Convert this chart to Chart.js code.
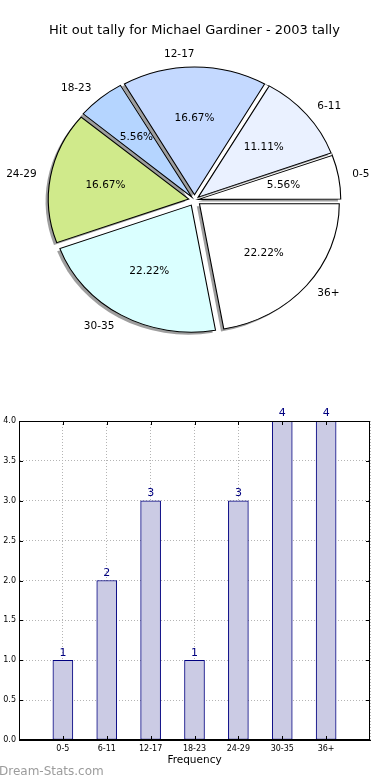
<!DOCTYPE html>
<html><head><meta charset="utf-8">
<script src="https://cdn.jsdelivr.net/npm/chart.js@4/dist/chart.umd.min.js"></script>
<style>
html,body{margin:0;padding:0;background:#fff;width:390px;height:780px;overflow:hidden;}
#pieWrap{position:absolute;left:0;top:0;width:390px;height:380px;}
#barWrap{position:absolute;left:0;top:380px;width:390px;height:400px;}
#wm{position:absolute;left:-1px;top:763px;font:12px 'DejaVu Sans';color:#9c9c9c;white-space:nowrap;line-height:16px;}
</style></head><body>
<div id="pieWrap"><canvas id="pie"></canvas></div>
<div id="barWrap"><canvas id="bar"></canvas></div>
<div id="wm"></div>
<script>
// ---- data ----
const chartTitle = 'Hit out tally for Michael Gardiner - 2003 tally';
const categories = ['0-5', '6-11', '12-17', '18-23', '24-29', '30-35', '36+'];
const tally = [1, 2, 3, 1, 3, 4, 4];
const sliceColors = ['#ffffff', '#eaf1ff', '#c4d9ff', '#b5d5ff', '#d0ea8b', '#daffff', '#ffffff'];
const xAxisTitle = 'Frequency';
const watermark = 'Dream-Stats.com';

document.getElementById('wm').textContent = watermark;
const FONT = "'DejaVu Sans', 'Liberation Sans', sans-serif";

// ---- pie ----
const SX = 1.1;        // horizontal stretch of the pie (non-equal aspect)
const EXPLODE = 6;     // explode distance
const R = 127;         // pie radius
const SHADOW = 2.5;    // shadow offset
const total = tally.reduce((a, b) => a + b, 0);
// matplotlib draws counter-clockwise from east; Chart.js clockwise -> reverse order
const pieLabels = categories.slice().reverse();
const pieValues = tally.slice().reverse();
const pieColors = sliceColors.slice().reverse();

const pieStretch = {
  id: 'pieStretch',
  beforeDatasetsDraw(chart) {
    const ctx = chart.ctx;
    const arcs = chart.getDatasetMeta(0).data;
    const cx = arcs[0].x, cy = arcs[0].y;
    ctx.save();
    ctx.translate(cx, cy); ctx.scale(SX, 1); ctx.translate(-cx, -cy);
    ctx.fillStyle = 'rgba(40,40,40,0.45)';
    arcs.forEach(a => {
      const m = (a.startAngle + a.endAngle) / 2;
      const ox = cx + EXPLODE * Math.cos(m) - SHADOW;
      const oy = cy + EXPLODE * Math.sin(m) + SHADOW;
      ctx.beginPath();
      ctx.moveTo(ox, oy);
      ctx.arc(ox, oy, a.outerRadius, a.startAngle, a.endAngle);
      ctx.closePath();
      ctx.fill();
    });
  },
  afterDatasetsDraw(chart) {
    const ctx = chart.ctx;
    ctx.restore();
    const arcs = chart.getDatasetMeta(0).data;
    const cx = arcs[0].x, cy = arcs[0].y;
    ctx.save();
    ctx.font = '10.5px ' + FONT;
    ctx.fillStyle = '#000';
    ctx.textBaseline = 'middle';
    arcs.forEach((a, k) => {
      const m = (a.startAngle + a.endAngle) / 2;
      const c = Math.cos(m), s = Math.sin(m);
      const ex = cx + SX * EXPLODE * c, ey = cy + EXPLODE * s;
      ctx.textAlign = c > 1e-6 ? 'left' : 'right';
      ctx.fillText(pieLabels[k], ex + SX * 1.1 * a.outerRadius * c, ey + 1.1 * a.outerRadius * s);
      ctx.textAlign = 'center';
      const pct = (pieValues[k] / total * 100).toFixed(2) + '%';
      ctx.fillText(pct, ex + SX * 0.6 * a.outerRadius * c, ey + 0.6 * a.outerRadius * s);
    });
    ctx.restore();
  }
};

new Chart(document.getElementById('pie'), {
  type: 'pie',
  data: {
    labels: pieLabels,
    datasets: [{
      data: pieValues,
      backgroundColor: pieColors,
      borderColor: '#000',
      borderWidth: 1,
      borderJoinStyle: 'miter',
      clip: false,
      offset: (ctx) => {
        const d = ctx.dataset.data;
        const tot = d.reduce((a, b) => a + b, 0);
        const circ = d[ctx.dataIndex] / tot * 2 * Math.PI;
        const fix = 1 - Math.sin(Math.min(Math.PI, circ));
        return 4 * EXPLODE / (1 + fix);
      }
    }]
  },
  options: {
    animation: false, events: [], responsive: true, maintainAspectRatio: false,
    rotation: 90, radius: R,
    layout: { padding: { top: 0, left: 0, right: 1, bottom: 28.6 } },
    plugins: {
      legend: { display: false }, tooltip: { enabled: false },
      title: { display: true, text: chartTitle, color: '#000',
        font: { family: FONT, size: 13, weight: 'normal', lineHeight: 1.2 },
        padding: { top: 23, bottom: 10 } }
    }
  },
  plugins: [pieStretch]
});

// ---- bar ----
const barLabels = [''].concat(categories, ['']);
const barValues = [null].concat(tally, [null]);

const barDecor = {
  id: 'barDecor',
  afterDatasetsDraw(chart) {
    const ctx = chart.ctx;
    const meta = chart.getDatasetMeta(0);
    ctx.save();
    ctx.font = '11px ' + FONT;
    ctx.fillStyle = '#000080';
    ctx.textAlign = 'center';
    ctx.textBaseline = 'bottom';
    meta.data.forEach((el, i) => {
      const v = barValues[i];
      if (v == null) return;
      ctx.fillText(String(v), el.x, el.y - 2);
    });
    ctx.restore();
  },
  afterDraw(chart) {
    const { ctx, chartArea: a, scales: { x, y } } = chart;
    ctx.save();
    ctx.strokeStyle = '#000';
    ctx.lineWidth = 1;
    ctx.beginPath();
    y.ticks.forEach((t, i) => {
      const py = Math.round(y.getPixelForTick(i)) + 0.5;
      ctx.moveTo(a.left, py); ctx.lineTo(a.left + 4, py);
      ctx.moveTo(a.right, py); ctx.lineTo(a.right - 4, py);
    });
    categories.forEach((c, i) => {
      const px = Math.round(x.getPixelForValue(i + 1)) + 0.5;
      ctx.moveTo(px, a.bottom); ctx.lineTo(px, a.bottom - 4);
      ctx.moveTo(px, a.top); ctx.lineTo(px, a.top + 4);
    });
    ctx.stroke();
    ctx.strokeRect(Math.round(a.left) + 0.5, Math.round(a.top) + 0.5,
      Math.round(a.right) - Math.round(a.left) - 1, Math.round(a.bottom) - Math.round(a.top) - 1);
    ctx.restore();
  }
};

new Chart(document.getElementById('bar'), {
  type: 'bar',
  data: {
    labels: barLabels,
    datasets: [{
      data: barValues,
      backgroundColor: '#cbcbe4',
      borderColor: '#000080',
      borderWidth: 1,
      borderSkipped: false,
      barThickness: 20
    }]
  },
  options: {
    animation: false, events: [], responsive: true, maintainAspectRatio: false,
    layout: { padding: { top: 41, right: 20, left: 0, bottom: 0 } },
    plugins: { legend: { display: false }, tooltip: { enabled: false } },
    scales: {
      x: {
        offset: false, z: 1,
        grid: { offset: false, color: '#b4b4b4', lineWidth: 1, drawTicks: false },
        border: { display: true, color: '#000', dash: [1, 2] },
        ticks: { font: { family: FONT, size: 8 }, color: '#000', padding: 4, maxRotation: 0, autoSkip: false },
        title: { display: true, text: xAxisTitle, color: '#000',
          font: { family: FONT, size: 10.5, lineHeight: 1.2 }, padding: { top: 0, bottom: 13.7 } },
        afterFit(s) { s.height = 40; }
      },
      y: {
        min: 0, max: 4, z: 1,
        grid: { color: '#b4b4b4', lineWidth: 1, drawTicks: false },
        border: { display: true, color: '#000', dash: [1, 2] },
        ticks: { stepSize: 0.5, callback: v => Number(v).toFixed(1),
          font: { family: FONT, size: 8 }, color: '#000', padding: 3 },
        afterFit(s) { s.width = 19; }
      }
    }
  },
  plugins: [barDecor]
});
</script>
</body></html>
